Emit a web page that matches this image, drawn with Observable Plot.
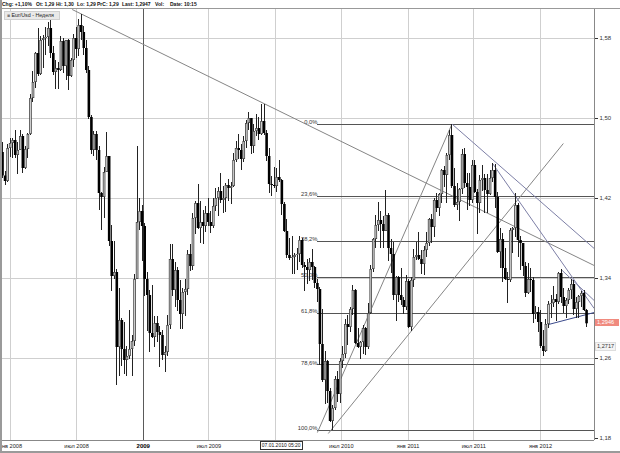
<!DOCTYPE html>
<html><head><meta charset="utf-8">
<script src="https://cdn.jsdelivr.net/npm/d3@7"></script>
<script src="https://cdn.jsdelivr.net/npm/@observablehq/plot@0.6"></script>
<style>
body{margin:0;background:#fff;font-family:"Liberation Sans",Arial,sans-serif;}
#wrap{position:relative;width:620px;height:453px;overflow:hidden;background:#fff}
#hdr{position:absolute;left:0;top:0;width:620px;height:8px;border-bottom:1px solid #999;background:#fff;}
.hi{position:absolute;top:0;font-size:5px;font-weight:bold;line-height:8px;white-space:pre;color:#111}
.box{position:absolute;font-size:5.6px;line-height:7px;white-space:pre;}
</style></head><body>
<div id="wrap"><div id="chart"></div><div id="hdr"></div></div>
<script>
// ---- data (weekly EUR/USD) ----
const firstWeek = "2007-12-10";
const firstOpen = 1.4660;
const closes = [1.4425,1.4370,1.4700,1.4750,1.4780,1.4630,1.4680,1.4820,1.4500,1.4690,1.4840,1.5200,1.5360,1.5650,1.5440,1.5780,1.5800,1.5810,1.5900,1.5650,1.5460,1.5500,1.5480,1.5770,1.5520,1.5780,1.5420,1.5580,1.5800,1.5690,1.5930,1.5860,1.5700,1.5480,1.5010,1.4680,1.4840,1.4680,1.4250,1.4210,1.4460,1.4620,1.3770,1.3420,1.3460,1.2710,1.2980,1.2690,1.2580,1.2620,1.2690,1.2770,1.3390,1.3960,1.4070,1.3920,1.3390,1.3230,1.2850,1.2810,1.2950,1.2860,1.2830,1.2630,1.2660,1.2930,1.3590,1.3280,1.3480,1.3180,1.3040,1.3260,1.3290,1.3640,1.3520,1.4000,1.4150,1.3900,1.3960,1.3920,1.4050,1.3960,1.3920,1.4120,1.4200,1.4270,1.4180,1.4200,1.4330,1.4300,1.4320,1.4580,1.4700,1.4680,1.4590,1.4770,1.4950,1.5000,1.4720,1.4870,1.4900,1.4840,1.4970,1.4850,1.4620,1.4340,1.4330,1.4320,1.4410,1.4380,1.4140,1.3870,1.3630,1.3600,1.3610,1.3630,1.3640,1.3780,1.3530,1.3510,1.3480,1.3560,1.3510,1.3350,1.3290,1.2740,1.2380,1.2570,1.2270,1.1970,1.2100,1.2390,1.2240,1.2570,1.2640,1.2940,1.2910,1.3090,1.3280,1.2750,1.2710,1.2760,1.2900,1.2710,1.3050,1.3490,1.3790,1.3930,1.3980,1.3940,1.3870,1.4030,1.3700,1.3640,1.3230,1.3410,1.3230,1.3180,1.3110,1.3370,1.2910,1.3380,1.3610,1.3630,1.3590,1.3540,1.3680,1.3750,1.3990,1.3910,1.4180,1.4100,1.4240,1.4480,1.4430,1.4630,1.4830,1.4320,1.4130,1.4160,1.4290,1.4640,1.4350,1.4310,1.4180,1.4530,1.4260,1.4150,1.4380,1.4400,1.4280,1.4240,1.4400,1.4480,1.4210,1.3660,1.3790,1.3500,1.3390,1.3380,1.3880,1.3900,1.4130,1.3780,1.3750,1.3520,1.3250,1.3390,1.3380,1.3040,1.3060,1.2960,1.2720,1.2670,1.2940,1.3140,1.3150,1.3190,1.3160,1.3450,1.3210,1.3120,1.3180,1.3280,1.3340,1.3090,1.3160,1.3220,1.3250,1.3080,1.2947];
const highs = [1.4760,1.4470,1.4740,1.4800,1.4800,1.4880,1.4760,1.4880,1.4840,1.4720,1.4850,1.5240,1.5470,1.5660,1.5905,1.5820,1.5830,1.5910,1.5960,1.6020,1.5720,1.5580,1.5560,1.5820,1.5800,1.5780,1.5790,1.5600,1.5845,1.5910,1.5990,1.6038,1.5920,1.5780,1.5520,1.5030,1.4870,1.4870,1.4720,1.4260,1.4510,1.4865,1.4620,1.3930,1.3770,1.3490,1.3300,1.3000,1.2960,1.2720,1.3080,1.2830,1.3440,1.4720,1.4200,1.4130,1.3950,1.3460,1.3280,1.3330,1.3020,1.3020,1.2920,1.2880,1.2720,1.3030,1.3740,1.3740,1.3560,1.3510,1.3380,1.3300,1.3390,1.3680,1.3740,1.4050,1.4170,1.4340,1.4170,1.4080,1.4120,1.4200,1.4070,1.4200,1.4300,1.4310,1.4450,1.4320,1.4350,1.4390,1.4360,1.4650,1.4770,1.4845,1.4740,1.4820,1.4980,1.5060,1.5000,1.4940,1.5040,1.5010,1.5145,1.5140,1.4880,1.4700,1.4420,1.4510,1.4500,1.4580,1.4390,1.4160,1.3990,1.3800,1.3820,1.3650,1.3700,1.3820,1.3800,1.3560,1.3590,1.3600,1.3690,1.3520,1.3390,1.3310,1.3090,1.2670,1.2580,1.2300,1.2130,1.2420,1.2470,1.2600,1.2720,1.2990,1.3030,1.3110,1.3330,1.3290,1.2900,1.2770,1.2930,1.2910,1.3150,1.3530,1.3800,1.4030,1.4160,1.4070,1.4020,1.4282,1.4050,1.3790,1.3760,1.3420,1.3420,1.3500,1.3210,1.3430,1.3390,1.3410,1.3690,1.3760,1.3860,1.3680,1.3720,1.3860,1.4000,1.4040,1.4200,1.4250,1.4250,1.4490,1.4520,1.4650,1.4880,1.4940,1.4500,1.4350,1.4300,1.4690,1.4700,1.4450,1.4450,1.4580,1.4580,1.4290,1.4430,1.4530,1.4440,1.4440,1.4480,1.4550,1.4540,1.4260,1.3900,1.3850,1.3700,1.3460,1.3900,1.3910,1.4250,1.4150,1.3820,1.3750,1.3560,1.3550,1.3500,1.3410,1.3120,1.3110,1.3080,1.2880,1.2990,1.3170,1.3230,1.3320,1.3240,1.3460,1.3490,1.3300,1.3200,1.3300,1.3390,1.3380,1.3210,1.3230,1.3270,1.3280,1.3090];
const lows = [1.4400,1.4330,1.4360,1.4610,1.4600,1.4600,1.4440,1.4680,1.4450,1.4490,1.4600,1.4830,1.5160,1.5300,1.5420,1.5430,1.5500,1.5630,1.5720,1.5600,1.5430,1.5290,1.5290,1.5470,1.5450,1.5380,1.5280,1.5410,1.5510,1.5600,1.5620,1.5780,1.5630,1.5450,1.4990,1.4640,1.4620,1.4580,1.4080,1.3880,1.4000,1.4460,1.3720,1.3270,1.3390,1.2330,1.2420,1.2520,1.2440,1.2420,1.2590,1.2420,1.2720,1.3390,1.3880,1.3570,1.3220,1.2870,1.2660,1.2800,1.2710,1.2760,1.2510,1.2580,1.2460,1.2620,1.2890,1.3220,1.3110,1.3070,1.2890,1.2890,1.3020,1.3230,1.3470,1.3480,1.3840,1.3890,1.3750,1.3740,1.3860,1.3920,1.3850,1.3900,1.4070,1.4020,1.4150,1.4050,1.4060,1.4170,1.4140,1.4310,1.4560,1.4590,1.4480,1.4560,1.4700,1.4880,1.4640,1.4650,1.4820,1.4780,1.4830,1.4830,1.4570,1.4250,1.4220,1.4300,1.4260,1.4360,1.4030,1.3860,1.3600,1.3580,1.3440,1.3440,1.3480,1.3560,1.3500,1.3270,1.3340,1.3370,1.3380,1.3300,1.3160,1.2530,1.2360,1.2140,1.2150,1.1960,1.1876,1.2080,1.2160,1.2150,1.2500,1.2600,1.2730,1.2860,1.3030,1.2740,1.2700,1.2590,1.2640,1.2630,1.2690,1.3040,1.3460,1.3700,1.3870,1.3700,1.3700,1.3870,1.3570,1.3450,1.3180,1.2970,1.3160,1.3130,1.3040,1.3080,1.2900,1.2870,1.3310,1.3580,1.3580,1.3440,1.3430,1.3610,1.3720,1.3750,1.3810,1.4060,1.4020,1.4150,1.4310,1.4150,1.4580,1.4300,1.4110,1.4080,1.3970,1.4240,1.4300,1.4080,1.4120,1.4150,1.4250,1.3840,1.4050,1.4270,1.4050,1.4050,1.4230,1.4360,1.4100,1.3650,1.3500,1.3360,1.3380,1.3150,1.3360,1.3650,1.3810,1.3610,1.3480,1.3420,1.3210,1.3240,1.3260,1.2950,1.2990,1.2860,1.2700,1.2624,1.2660,1.2900,1.3000,1.3110,1.2970,1.3140,1.3150,1.3050,1.3000,1.3140,1.3190,1.3030,1.3000,1.3000,1.3110,1.3070,1.2910];

const yTicks = [1.18, 1.26, 1.34, 1.42, 1.50, 1.58];
const gridDates = ["2008-01-01","2008-07-01","2009-01-01","2009-07-01","2010-01-01","2010-07-01","2011-01-01","2011-07-01","2012-01-01"];
const gridLabels = ["янв 2008","июл 2008","2009","июл 2009","","июл 2010","янв 2011","июл 2011","янв 2012"];
const yearMark = "2009-01-01";

const fibNames = ["0,0%","23,6%","38,2%","50,0%","61,8%","78,6%","100,0%"];
const fibRatios = [0, 0.236, 0.382, 0.5, 0.618, 0.786, 1];
const fibHigh = 1.4945, fibLow = 1.1880;
const fibStart = "2010-04-26";

// trend lines: start point, end point (date, price), kind
const trendFrom = [["2008-06-19",1.609],["2010-04-26",1.186],["2010-05-26",1.185],["2011-05-02",1.4945],["2011-08-22",1.455],["2012-02-27",1.349],["2012-01-23",1.294]];
const trendTo   = [["2012-05-28",1.353],["2011-05-02",1.4945],["2012-03-04",1.475],["2012-05-28",1.370],["2012-05-28",1.310],["2012-05-28",1.318],["2012-05-28",1.306]];
const trendKind = ["gray","gray","gray","blue","blue","blue","navy"];

const headerItems = ["Chg: +1,10%","Ot: 1,29","Hi: 1,30","Lo: 1,29","PrC: 1,29","Last: 1,2947","Vol:","Date: 10:15"];
const symbolText = "≡ Eur/Usd - Неделя";
const cursorText = "07.01.2010 05:20";
const cursorDate = "2010-01-08";
const lastPrice = 1.2946, lastLabel = "1,2946";
const markPrice = 1.2717, markLabel = "1,2717";

// ---- build ----
const t0 = new Date(firstWeek + "T00:00Z");
const candles = closes.map((c, i) => ({
  date: new Date(t0.getTime() + i * 7 * 864e5),
  open: i ? closes[i - 1] : firstOpen,
  close: c, high: highs[i], low: lows[i]
}));
const up = candles.filter(d => d.close >= d.open);
const down = candles.filter(d => d.close < d.open);
const D = s => new Date(s + "T00:00Z");
const xDomain = [new Date("2007-12-04T10:00Z"), new Date("2012-05-28T21:00Z")];
const fib = fibNames.map((n, i) => ({name: n, price: fibHigh - fibRatios[i] * (fibHigh - fibLow)}));
const segs = trendFrom.map((a, i) => ({x1: D(a[0]), y1: a[1], x2: D(trendTo[i][0]), y2: trendTo[i][1], kind: trendKind[i]}));
const kindColor = {gray: "#858585", blue: "#7d7fa6", navy: "#3b4a8c"};
const grid = gridDates.map((d, i) => ({date: D(d), label: gridLabels[i]}));

const chart = Plot.plot({
  width: 620, height: 453,
  marginTop: 9, marginBottom: 13, marginLeft: 0, marginRight: 26,
  x: {type: "utc", domain: xDomain, axis: null},
  y: {domain: [1.178, 1.609], axis: null},
  style: {fontFamily: "Liberation Sans, Arial, sans-serif", background: "#fff"},
  marks: [
    Plot.ruleY(yTicks.slice(1), {stroke: "#cfcfcf", strokeWidth: 1, shapeRendering: "crispEdges"}),
    Plot.ruleX(grid, {x: "date", stroke: "#cfcfcf", shapeRendering: "crispEdges"}),
    Plot.ruleX([D(yearMark)], {stroke: "#5a5a5a", shapeRendering: "crispEdges"}),
    Plot.ruleY(fib, {y: "price", x1: () => D(fibStart), x2: () => xDomain[1], stroke: "#555", shapeRendering: "crispEdges"}),
    Plot.text(fib, {x: () => D(fibStart), y: "price", text: "name", textAnchor: "end", dy: -2, fontSize: 5.8, fill: "#333"}),
    Plot.link(segs, {x1: "x1", y1: "y1", x2: "x2", y2: "y2", stroke: d => kindColor[d.kind], strokeWidth: 1, clip: true}),
    Plot.ruleX(candles, {x: "date", y1: "low", y2: "high", stroke: "#222", strokeWidth: 1, shapeRendering: "crispEdges"}),
    Plot.ruleX(down, {x: "date", y1: "open", y2: "close", stroke: "#000", strokeWidth: 2.6}),
    Plot.ruleX(up, {x: "date", y1: "open", y2: "close", stroke: "#444", strokeWidth: 2.6}),
    Plot.ruleX(up, {x: "date", y1: d => Math.max(d.open, d.close) - 0.0008, y2: d => Math.min(d.open, d.close) + 0.0008, stroke: "#e4e4e4", strokeWidth: 0.9}),
    Plot.ruleX([xDomain[1]], {stroke: "#888", shapeRendering: "crispEdges"}),
    Plot.ruleY([1.178], {stroke: "#888", shapeRendering: "crispEdges"}),
    Plot.axisY(yTicks, {anchor: "right", tickFormat: d => d.toFixed(2).replace(".", ","), tickSize: 3, tickPadding: 2, fontSize: 6, color: "#333"}),
    Plot.text(grid.filter(d => d.label && d.label !== "2009"), {x: "date", text: "label", frameAnchor: "bottom", dy: 7, fontSize: 5.6, fill: "#222"}),
    Plot.text(grid.filter(d => d.label === "2009"), {x: "date", text: "label", frameAnchor: "bottom", dy: 7, fontSize: 6, fontWeight: "bold", fill: "#000"})
  ]
});
document.getElementById("chart").appendChild(chart);

const hdr = document.getElementById("hdr");
const headerLeft = [2, 36, 56, 77, 97, 122, 155, 170];
headerItems.forEach((t, i) => {
  const s = document.createElement("span");
  s.className = "hi"; s.textContent = t; s.style.left = headerLeft[i] + "px";
  hdr.appendChild(s);
});

const wrap = document.getElementById("wrap");
const xs = chart.scale("x"), ys = chart.scale("y");
function box(text, left, top, css) {
  const b = document.createElement("div");
  b.className = "box"; b.textContent = text;
  b.style.left = left + "px"; b.style.top = top + "px";
  Object.assign(b.style, css || {});
  wrap.appendChild(b);
  return b;
}
box(symbolText, 4, 11, {background: "#e9e9e9", border: "1px solid #d0d0d0", padding: "0 5px 0 2px", color: "#222", fontSize: "5.3px"});
const cx = xs.apply(D(cursorDate));
box(cursorText, cx - 18, 441, {background: "#fff", border: "1px solid #333", padding: "0 1px", color: "#111", fontSize: "5px"});
box(lastLabel, 595, ys.apply(lastPrice) - 4, {background: "#f08a7e", color: "#fff", width: "22px", padding: "0 0 0 2px"});
box(markLabel, 595, ys.apply(markPrice) - 4, {background: "#f4f4f4", border: "1px solid #ddd", color: "#333", padding: "0 1px"});
// left border and bottom edge of the window
box("", 0, 0, {width: "2px", height: "453px", background: "#9a9a9a"});
box("", 0, 451, {width: "620px", height: "2px", background: "#9a9a9a"});
</script>
</body></html>
